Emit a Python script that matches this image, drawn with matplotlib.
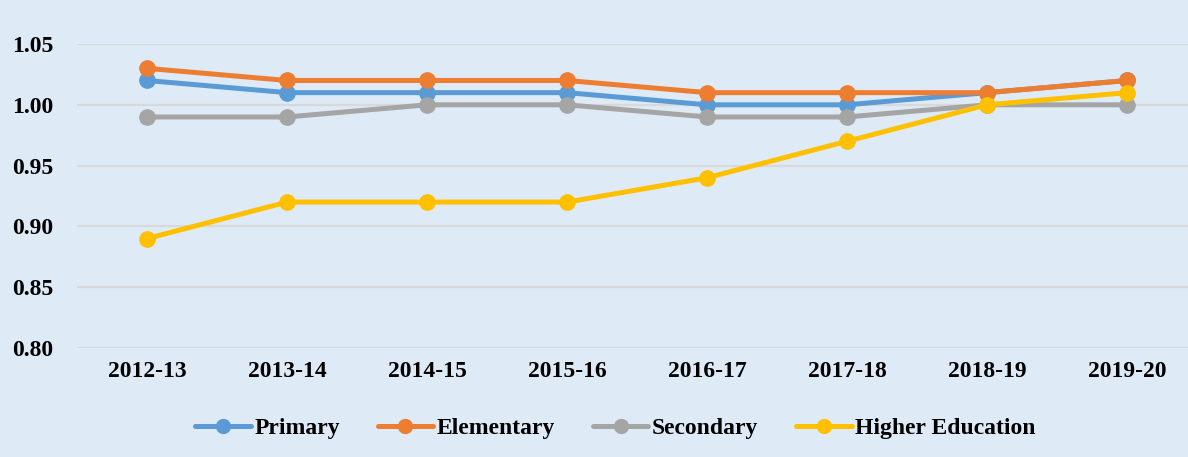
import matplotlib.pyplot as plt

years = ["2012-13", "2013-14", "2014-15", "2015-16", "2016-17", "2017-18", "2018-19", "2019-20"]
primary = [1.02, 1.01, 1.01, 1.01, 1.00, 1.00, 1.01, 1.02]
elementary = [1.03, 1.02, 1.02, 1.02, 1.01, 1.01, 1.01, 1.02]
secondary = [0.99, 0.99, 1.00, 1.00, 0.99, 0.99, 1.00, 1.00]
higher = [0.89, 0.92, 0.92, 0.92, 0.94, 0.97, 1.00, 1.01]
y_ticks = [0.80, 0.85, 0.90, 0.95, 1.00, 1.05]

series = [
    ("Primary", primary, "#5B9BD5"),
    ("Elementary", elementary, "#ED7D31"),
    ("Secondary", secondary, "#A5A5A5"),
    ("Higher Education", higher, "#FFC000"),
]

bg = "#DEEAF6"
plt.rcParams["font.family"] = ["Liberation Serif", "DejaVu Serif"]
plt.rcParams["font.weight"] = "bold"

fig = plt.figure(figsize=(11.88, 4.57), dpi=100, facecolor=bg)
ax = fig.add_axes([0.0648, 0.2385, 0.9428, 0.6652])
ax.set_facecolor(bg)

x = list(range(len(years)))
for name, vals, color in series:
    ax.plot(x, vals, color=color, lw=3.6, marker="o", markersize=11,
            solid_capstyle="round", label=name, zorder=3)

ax.set_xlim(-0.5, len(years) - 0.5)
ax.set_ylim(0.80, 1.05)
ax.set_yticks(y_ticks)
ax.set_yticklabels([f"{v:.2f}" for v in y_ticks], fontsize=17, fontweight="bold")
ax.set_xticks(x)
ax.set_xticklabels(years, fontsize=17, fontweight="bold")
ax.tick_params(length=0)
ax.tick_params(axis="y", pad=17)
ax.tick_params(axis="x", pad=9)
ax.grid(axis="y", color="#D9D9D9", lw=1.6, zorder=0)
ax.set_axisbelow(True)
for s in ax.spines.values():
    s.set_visible(False)

leg = fig.legend(loc="center", bbox_to_anchor=(0.518, 0.063), ncol=4, frameon=False,
                 prop={"size": 17, "weight": "bold"}, handlelength=2.35,
                 handletextpad=0.15, columnspacing=1.6)
for h in leg.legend_handles:
    h.set_markersize(10)

fig.savefig("out.png", dpi=100, facecolor=bg)
